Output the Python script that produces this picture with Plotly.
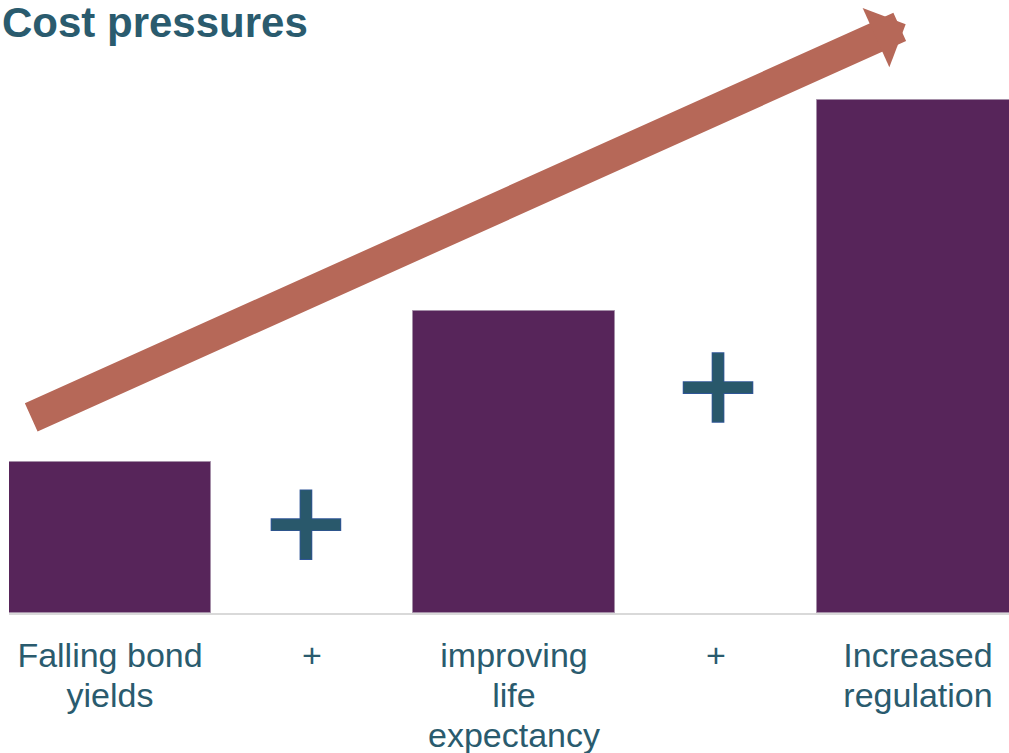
import plotly.graph_objects as go

# ---- data ----
categories = ["Falling bond<br>yields", "+", "improving<br>life<br>expectancy", "+", "Increased<br>regulation"]
bar_positions = [0, 2, 4]
bar_values = [1.0, 2.0, 3.4]
plus_x = [0.97, 3.01]
plus_y = [0.585, 1.493]
title_text = "Cost pressures"

# ---- styles ----
TEXT_COLOR = "#2A5B6E"
BAR_COLOR = "#57255A"
ARROW_COLOR = "#B66858"
PLUS_FILL = "#29586B"
PLUS_EDGE = "#2F5597"
FONT = "Liberation Sans, Arial, sans-serif"

def styled(label, size=34):
    return "<br>".join(f'<span style="font-size:{size}px">{part}</span>' for part in label.split("<br>"))

fig = go.Figure()
fig.add_trace(go.Bar(
    x=bar_positions, y=bar_values, width=1.0,
    marker=dict(color=BAR_COLOR, line=dict(color="#A58FA8", width=1)),
    hoverinfo="skip", showlegend=False,
))
fig.add_trace(go.Scatter(
    x=plus_x, y=plus_y, mode="markers",
    marker=dict(symbol="cross-thin", size=50.4, color=PLUS_EDGE,
                line=dict(color=PLUS_EDGE, width=12.7)),
    hoverinfo="skip", showlegend=False,
))
fig.add_trace(go.Scatter(
    x=plus_x, y=plus_y, mode="markers",
    marker=dict(symbol="cross-thin", size=49.0, color=PLUS_FILL,
                line=dict(color=PLUS_FILL, width=11)),
    hoverinfo="skip", showlegend=False,
))

fig.add_annotation(
    x=3.939, y=3.899, ax=-0.3975, ay=1.291,
    xref="x", yref="y", axref="x", ayref="y",
    text="", showarrow=True, arrowhead=1, arrowsize=0.35,
    arrowwidth=31, arrowcolor=ARROW_COLOR, standoff=0,
)
fig.add_annotation(
    x=-0.009, y=1.02, xref="paper", yref="paper",
    xanchor="left", yanchor="top", showarrow=False,
    text=f"<b>{title_text}</b>",
    font=dict(family=FONT, size=42, color=TEXT_COLOR),
)

fig.update_layout(
    width=1009, height=753,
    margin=dict(l=9, r=0, t=9, b=140, autoexpand=False),
    paper_bgcolor="white", plot_bgcolor="white",
    template="none",
    bargap=0,
    font=dict(family=FONT, color=TEXT_COLOR),
    xaxis=dict(
        range=[-0.5, -0.5 + 1000 / 202], tickmode="array",
        tickvals=list(range(len(categories))),
        ticktext=[styled(c) for c in categories],
        tickfont=dict(family=FONT, size=30.4, color=TEXT_COLOR),
        ticklabelstandoff=16,
        showgrid=False, zeroline=False, showline=True,
        linecolor="#D9D9D9", linewidth=2, ticks="", automargin=False,
        fixedrange=True,
    ),
    yaxis=dict(range=[0, 4.0], visible=False, showgrid=False, zeroline=False,
               fixedrange=True),
)

fig.write_html("out.html")
